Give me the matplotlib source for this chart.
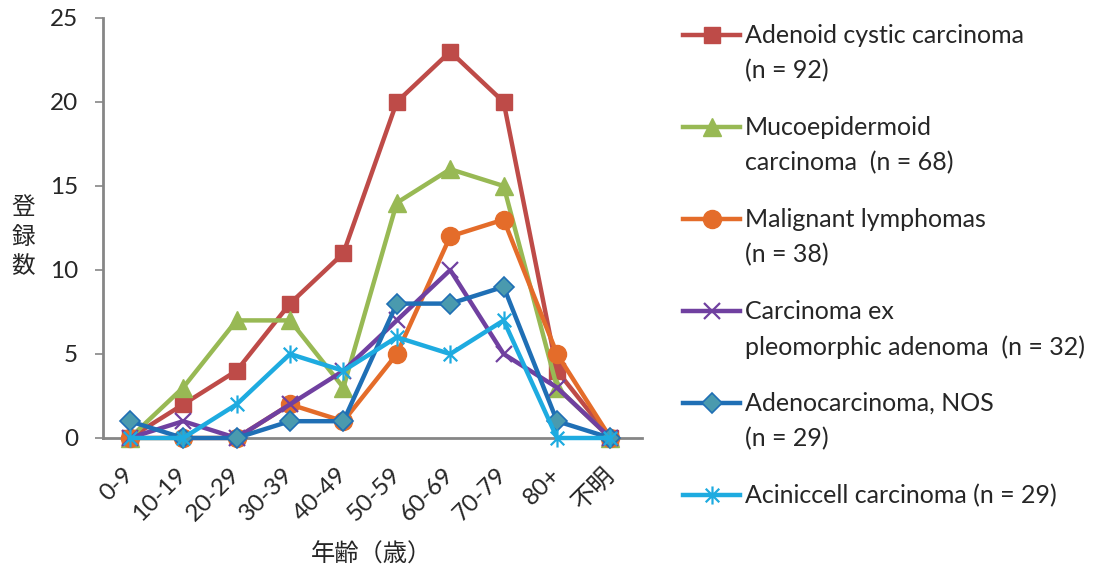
import matplotlib.pyplot as plt
from matplotlib.lines import Line2D
from matplotlib.path import Path

# ---- data ---------------------------------------------------------------

AGE_GROUPS = ["0-9", "10-19", "20-29", "30-39", "40-49",
              "50-59", "60-69", "70-79", "80+", "不明"]

ADENOID_CYSTIC = [0, 2, 4, 8, 11, 20, 23, 20, 4, 0]
MUCOEPIDERMOID = [0, 3, 7, 7, 3, 14, 16, 15, 3, 0]
LYMPHOMAS = [0, 0, 0, 2, 1, 5, 12, 13, 5, 0]
CA_EX_PLEO = [0, 1, 0, 2, 4, 7, 10, 5, 3, 0]
ADENOCARCINOMA = [1, 0, 0, 1, 1, 8, 8, 9, 1, 0]
ACINIC_CELL = [0, 0, 2, 5, 4, 6, 5, 7, 0, 0]

LABELS = [
    "Adenoid cystic carcinoma\n(n = 92)",
    "Mucoepidermoid\ncarcinoma  (n = 68)",
    "Malignant lymphomas\n(n = 38)",
    "Carcinoma ex\npleomorphic adenoma  (n = 32)",
    "Adenocarcinoma, NOS\n(n = 29)",
    "Aciniccell carcinoma (n = 29)",
]

# asterisk marker: vertical bar plus an x
STAR = Path(
    [(0, -1), (0, 1), (-0.75, -0.75), (0.75, 0.75), (-0.75, 0.75), (0.75, -0.75)],
    [Path.MOVETO, Path.LINETO, Path.MOVETO, Path.LINETO, Path.MOVETO, Path.LINETO],
)

STYLES = [
    dict(color="#BE4B48", marker="s", ms=12, mfc="#BE4B48", mec="#BE4B48"),
    dict(color="#98B954", marker="^", ms=13, mfc="#98B954", mec="#98B954"),
    dict(color="#E46C2A", marker="o", ms=13, mfc="#E46C2A", mec="#E46C2A"),
    dict(color="#7040A0", marker="x", ms=12, mfc="none", mec="#7040A0", mew=1.6),
    dict(color="#1F6FB5", marker="D", ms=10, mfc="#4A9AAE", mec="#1F6FB5", mew=1.2),
    dict(color="#1EABE0", marker=STAR, ms=13, mfc="none", mec="#1EABE0", mew=1.6),
]

plt.rcParams["font.family"] = ["Lato", "Noto Sans CJK JP", "DejaVu Sans"]
TEXT_COLOR = "#262626"
CJK = ["Noto Sans CJK JP", "DejaVu Sans"]

fig = plt.figure(figsize=(11.05, 5.73), dpi=100)
ax = fig.add_axes([103 / 1105, 135 / 573, 539 / 1105, 420 / 573])

series = [ADENOID_CYSTIC, MUCOEPIDERMOID, LYMPHOMAS, CA_EX_PLEO, ADENOCARCINOMA, ACINIC_CELL]
x = list(range(len(AGE_GROUPS)))
for values, style in zip(series, STYLES):
    ax.plot(x, values, lw=3.2, clip_on=False, zorder=3, **style)

ax.set_xlim(-0.5, 9.59)
ax.set_ylim(0, 25)
ax.set_yticks([0, 5, 10, 15, 20, 25])
ax.set_xticks(x)
ax.set_xticklabels(AGE_GROUPS, rotation=45, ha="right", va="center",
                   rotation_mode="anchor", fontsize=17.5, color=TEXT_COLOR)
ax.tick_params(axis="x", length=0, pad=24)
ax.tick_params(axis="y", length=6, width=1.2, color="#868686", labelsize=17.5,
               labelcolor=TEXT_COLOR, pad=12)
for side in ("top", "right"):
    ax.spines[side].set_visible(False)
for side in ("left", "bottom"):
    ax.spines[side].set_color("#868686")
    ax.spines[side].set_linewidth(2)

fig.text(23 / 1105, 1 - 237 / 573, "登\n録\n数", fontsize=17, family=CJK,
         ha="center", va="center", linespacing=1.38, color=TEXT_COLOR)
fig.text(372 / 1105, 1 - 555 / 573, "年齢（歳）", fontsize=17.5, family=CJK,
         ha="center", va="center", color=TEXT_COLOR)

# ---- legend drawn by hand, one entry per 92 px -------------------------
W, H = 1105, 573
for i, (label, style) in enumerate(zip(LABELS, STYLES)):
    y_px = 35 + i * 92
    y = 1 - y_px / H
    fig.add_artist(Line2D([683 / W, 740 / W], [y, y], lw=3.2,
                          color=style["color"], transform=fig.transFigure))
    mk = {k: v for k, v in style.items() if k != "color"}
    fig.add_artist(Line2D([712 / W], [y], lw=0, transform=fig.transFigure, **mk))
    fig.text(745 / W, 1 - (y_px - 11) / H, label, fontsize=18, ha="left", va="top",
             linespacing=1.62, transform=fig.transFigure, color=TEXT_COLOR)

fig.savefig("out.png", dpi=100)
